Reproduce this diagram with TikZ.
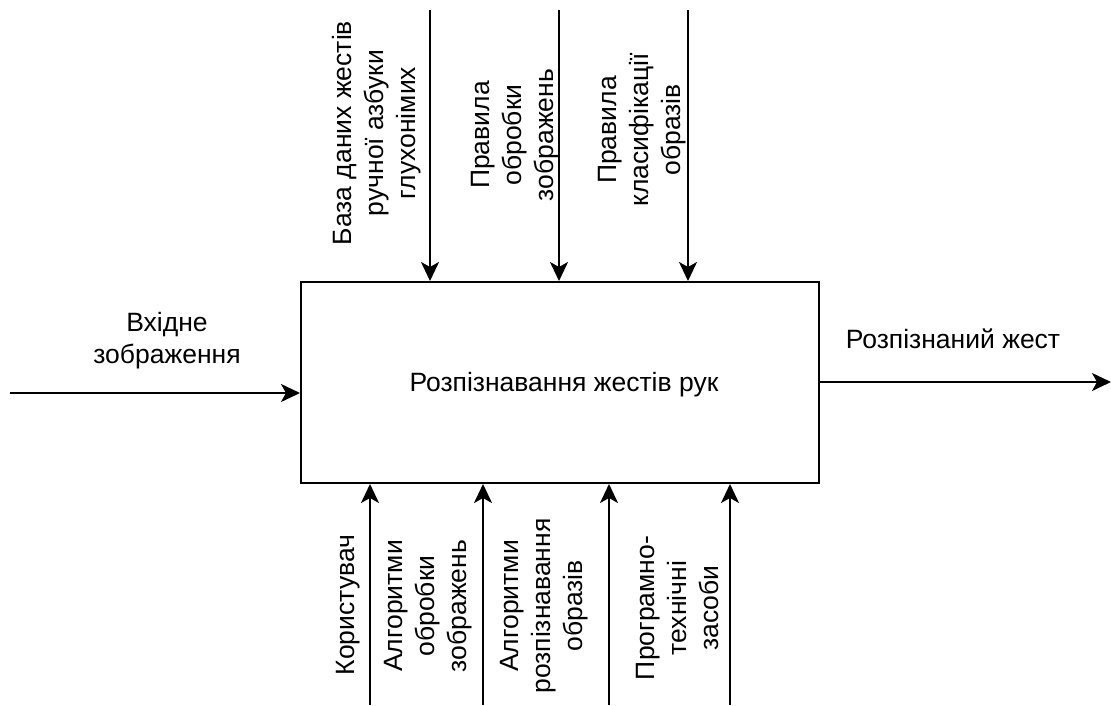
\documentclass[tikz,border=0pt]{standalone}
\usepackage{fontspec}
\setmainfont{Liberation Sans}
\usetikzlibrary{arrows.meta}
\begin{document}
\begin{tikzpicture}[x=1pt,y=-1pt,
  every node/.style={font=\fontsize{26.5}{32}\selectfont, inner sep=0pt},
  conn/.style={line width=2pt, -{Stealth[length=19pt,width=18pt,inset=5pt]}},
  lbl/.style={align=center, text=black},
  vlbl/.style={lbl, rotate=90}]
\useasboundingbox (0,0) rectangle (1111,705);
\node[draw, line width=2pt, minimum width=518pt, minimum height=201pt] (box) at (560,382.5) {};
\node[lbl] (main) at (564,385) {Розпізнавання жестів рук};
% top arrows
\coordinate (t1) at (430,10);
\coordinate (t2) at (559,10);
\coordinate (t3) at (688,10);
\draw[conn] (t1) -- (t1 |- box.north);
\draw[conn] (t2) -- (t2 |- box.north);
\draw[conn] (t3) -- (t3 |- box.north);
% bottom arrows
\coordinate (b1) at (370,705);
\coordinate (b2) at (483,705);
\coordinate (b3) at (609,705);
\coordinate (b4) at (730,705);
\draw[conn] (b1) -- (b1 |- box.south);
\draw[conn] (b2) -- (b2 |- box.south);
\draw[conn] (b3) -- (b3 |- box.south);
\draw[conn] (b4) -- (b4 |- box.south);
% input / output
\coordinate (in) at (10,393);
\coordinate (out) at (1111,382);
\draw[conn] (in) -- (in -| box.west);
\draw[conn] (box.east |- out) -- (out);
% labels
\node[lbl] (linp) at (167,341) {Вхідне\\зображення};
\node[lbl] (lout) at (953,339) {Розпізнаний жест};
\node[vlbl] (lt1) at (377,133) {База даних жестів\\ручної азбуки\\глухонімих};
\node[vlbl] (lt2) at (515,135) {Правила\\обробки\\зображень};
\node[vlbl] (lt3) at (642,130) {Правила\\класифікації\\образів};
\node[vlbl] (lb1) at (348,605) {Користувач};
\node[vlbl] (lb2) at (428,606) {Алгоритми\\обробки\\зображень};
\node[vlbl] (lb3) at (544,606) {Алгоритми\\розпізнавання\\образів};
\node[vlbl] (lb4) at (678,608) {Програмно-\\технічні\\засоби};
\end{tikzpicture}
\end{document}
